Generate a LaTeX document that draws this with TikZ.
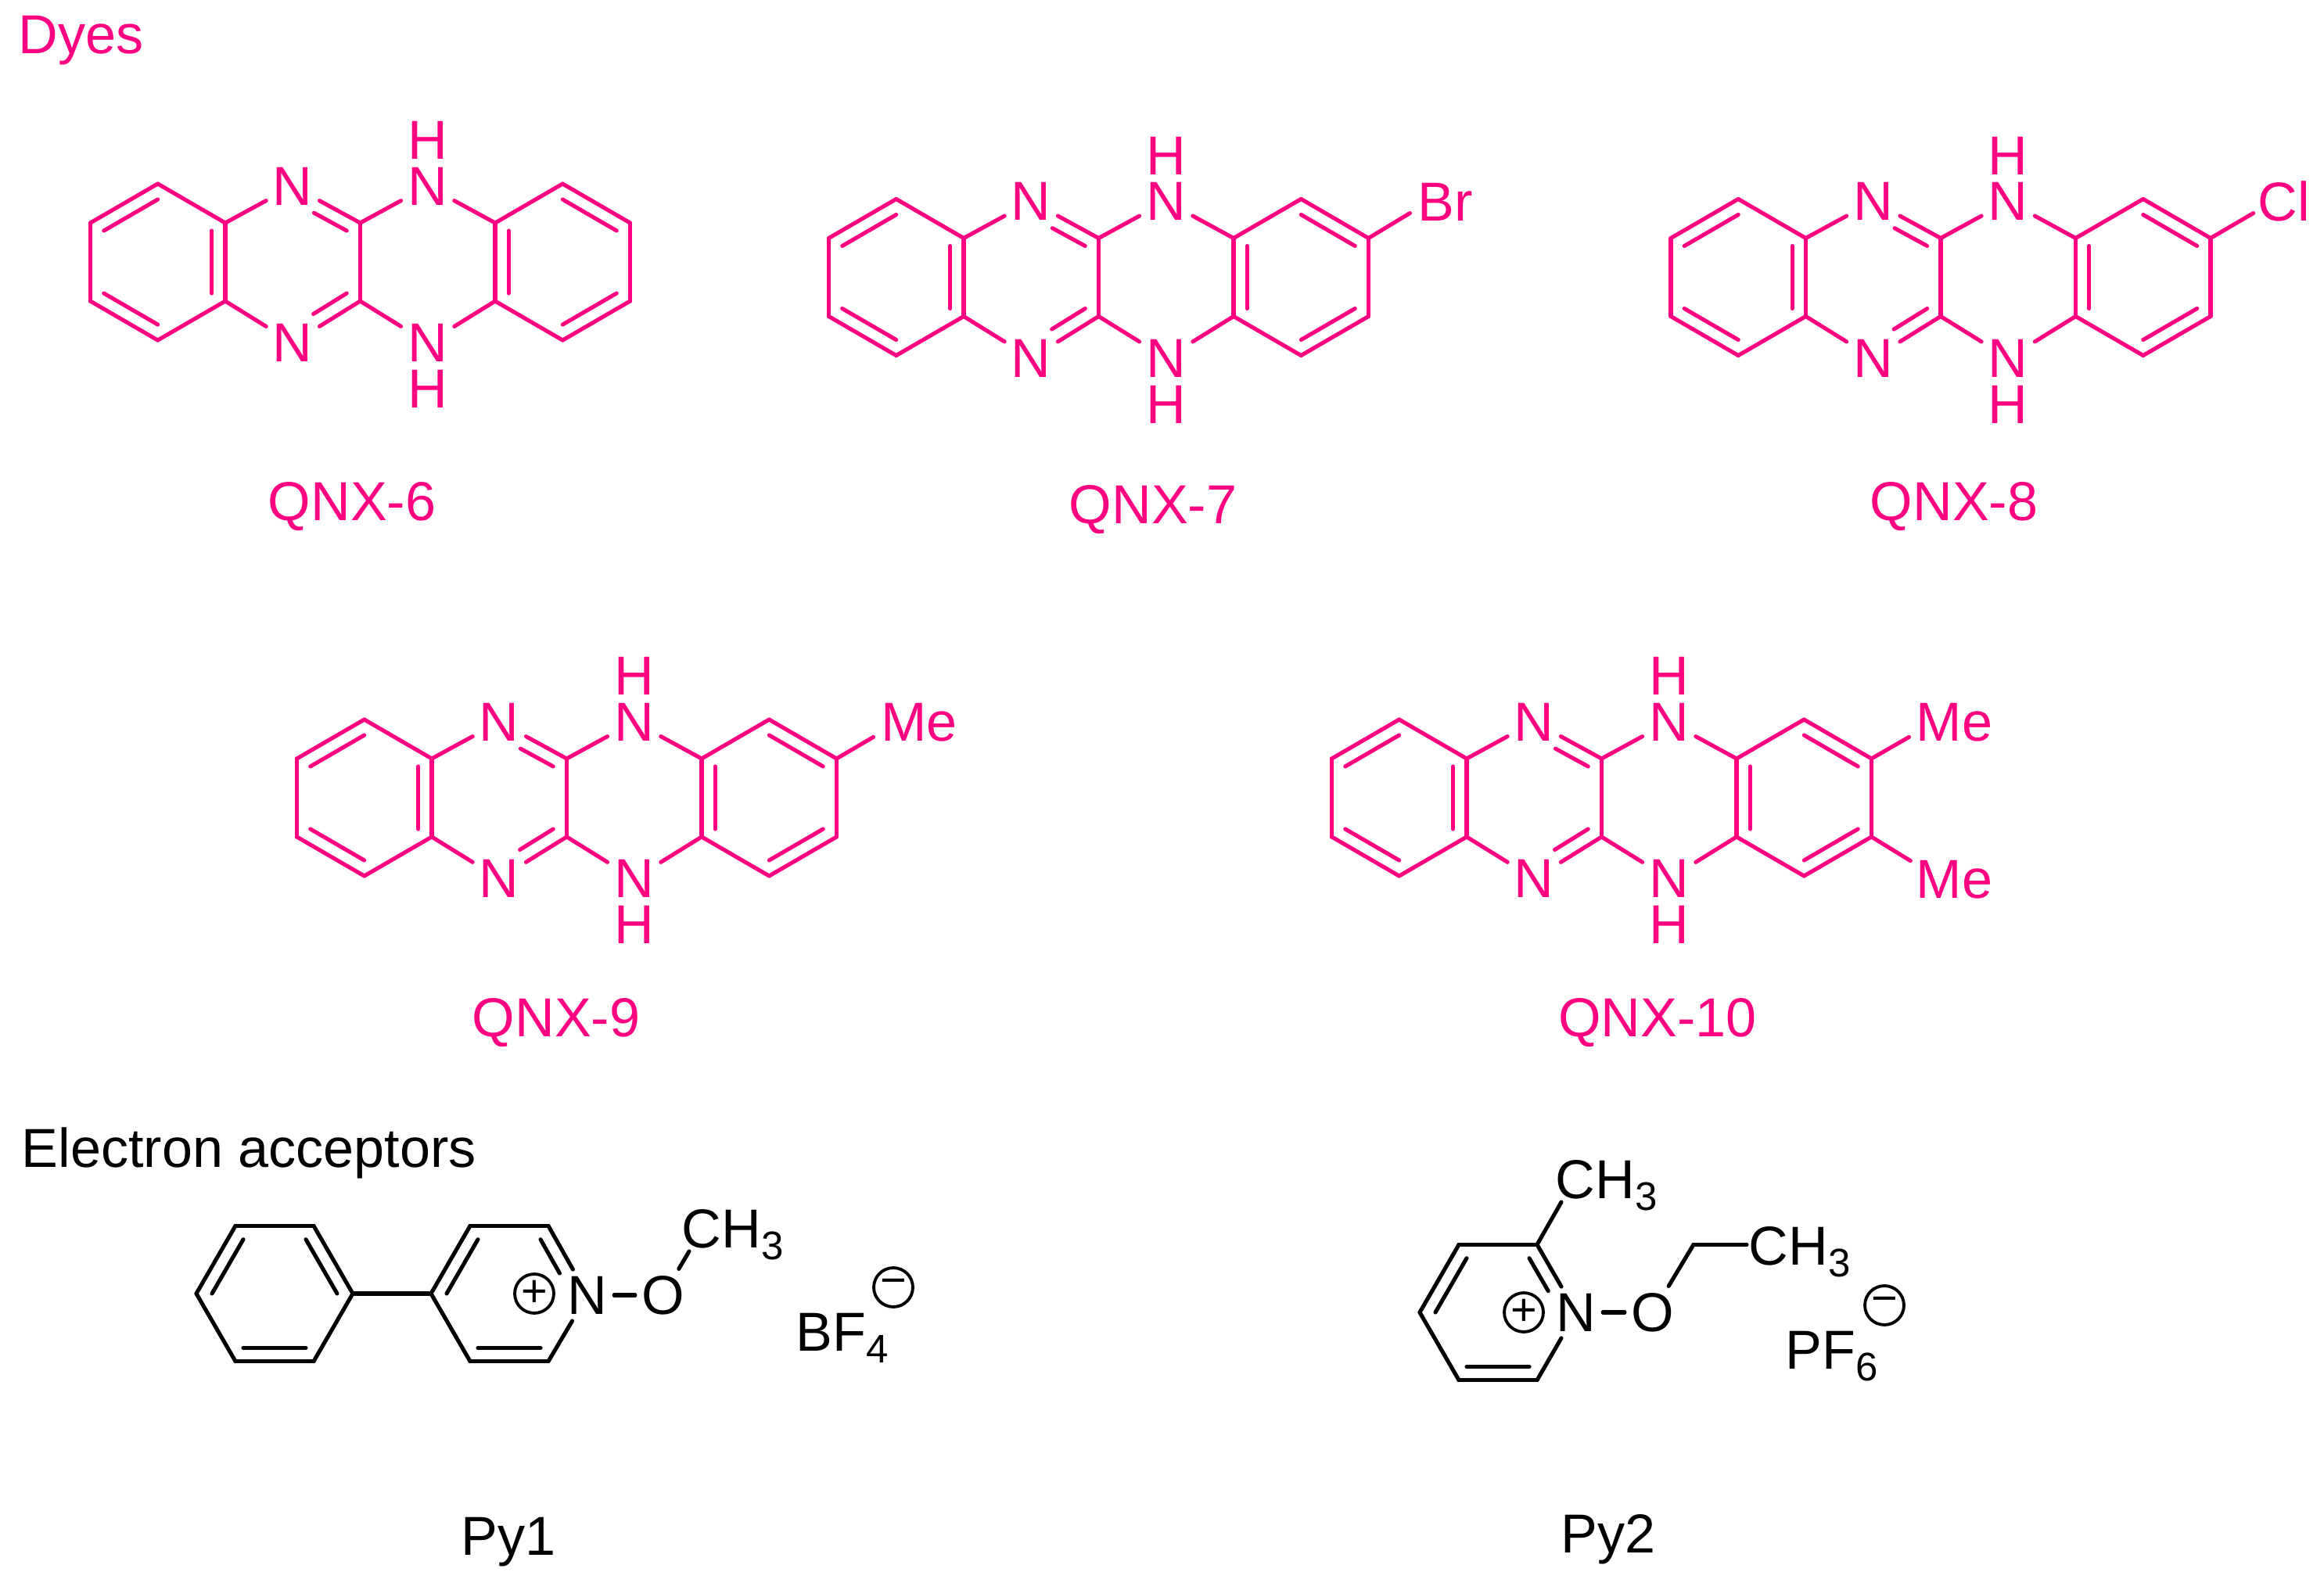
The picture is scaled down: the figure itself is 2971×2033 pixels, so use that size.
\documentclass[tikz,border=0pt]{standalone}
\usepackage{fontspec}
\setmainfont{Liberation Sans}
\usetikzlibrary{calc,positioning}
\definecolor{dyepink}{RGB}{255,0,128}
\tikzset{
	bond/.style={line width=1.45pt, line cap=round},
	atom/.style={inner sep=2.3pt, font=\fontsize{19.95}{24}\selectfont},
	hatom/.style={inner sep=0pt, font=\fontsize{19.95}{24}\selectfont},
	lbl/.style={inner sep=0pt, anchor=base west, font=\fontsize{19.95}{24}\selectfont},
	caption/.style={inner sep=0pt, anchor=base, font=\fontsize{19.95}{24}\selectfont},
	chg/.style={circle, draw, line width=1.1pt, minimum size=14.2pt, inner sep=0pt, font=\fontsize{16.4}{18}\selectfont}
}
\def\subs#1{\raisebox{-4.3pt}{\fontsize{14.5}{16}\selectfont #1}}
\def\innerbond[#1](#2)(#3)(#4){\draw[bond,#1] ($(#2)!0.2!(#4)$) -- ($(#3)!0.2!(#4)$);}
\def\qnxcore{
	\coordinate (l1) at (-345, -50);
	\coordinate (l2) at (-258.8, -100);
	\coordinate (l3) at (-172.5, -50);
	\coordinate (l4) at (-172.5, 50);
	\coordinate (l5) at (-258.8, 100);
	\coordinate (l6) at (-345, 50);
	\coordinate (lc) at (-258.8, 0);
	\coordinate (mc) at (-86.2, 0);
	\coordinate (ca) at (0, -50);
	\coordinate (cb) at (0, 50);
	\coordinate (r1) at (172.5, -50);
	\coordinate (r2) at (258.8, -100);
	\coordinate (r3) at (345, -50);
	\coordinate (r4) at (345, 50);
	\coordinate (r5) at (258.8, 100);
	\coordinate (r6) at (172.5, 50);
	\coordinate (rc) at (258.8, 0);
	\node[atom] (n1) at (-86.2, -97) {N};
	\node[atom] (n2) at (-86.2, 103.5) {N};
	\node[atom] (n3) at (86.2, -97) {N};
	\node[atom] (n4) at (86.2, 103.5) {N};
	\node[hatom] (h3) at (86.2, -155.5) {H};
	\node[hatom] (h4) at (86.2, 162.5) {H};
	\draw[bond] (l1) -- (l2);
	\draw[bond] (l2) -- (l3);
	\draw[bond] (l3) -- (l4);
	\draw[bond] (l4) -- (l5);
	\draw[bond] (l5) -- (l6);
	\draw[bond] (l6) -- (l1);
	\draw[bond] (l3) -- (n1);
	\draw[bond] (n1) -- (ca);
	\draw[bond] (ca) -- (n3);
	\draw[bond] (n3) -- (r1);
	\draw[bond] (l4) -- (n2);
	\draw[bond] (n2) -- (cb);
	\draw[bond] (cb) -- (n4);
	\draw[bond] (n4) -- (r6);
	\draw[bond] (ca) -- (cb);
	\draw[bond] (r1) -- (r2);
	\draw[bond] (r2) -- (r3);
	\draw[bond] (r3) -- (r4);
	\draw[bond] (r4) -- (r5);
	\draw[bond] (r5) -- (r6);
	\draw[bond] (r6) -- (r1);
	\innerbond[](l1)(l2)(lc);
	\innerbond[](l3)(l4)(lc);
	\innerbond[](l5)(l6)(lc);
	\innerbond[shorten >=8.8pt](ca)(n1)(mc);
	\innerbond[shorten >=8.8pt](cb)(n2)(mc);
	\innerbond[](r2)(r3)(rc);
	\innerbond[](r4)(r5)(rc);
	\innerbond[](r6)(r1)(rc);
}

\begin{document}
\begin{tikzpicture}[x=0.01cm, y=-0.01cm]
	\useasboundingbox (0, 0) rectangle (2971, 2033);
	
	%%%%% DYES %%%%%
	\begin{scope}[color=dyepink]
		\node[lbl] (dyes) at (23, 68) {Dyes};
		
		\begin{scope}[shift={(460.5, 335)}, name prefix=six-]
			\qnxcore
		\end{scope}
		\node[caption] (qnx6) at (450, 665) {QNX-6};
		
		\begin{scope}[shift={(1404.5, 354.5)}, name prefix=sev-]
			\qnxcore
			\node[lbl] (br) at (407, -72) {Br};
			\coordinate (brend) at (398, -82);
			\draw[bond] (r3) -- (brend);
		\end{scope}
		\node[caption] (qnx7) at (1474, 669) {QNX-7};
		
		\begin{scope}[shift={(2481, 354.5)}, name prefix=eig-]
			\qnxcore
			\node[lbl] (cl) at (404.7, -72) {Cl};
			\coordinate (clend) at (399.7, -82);
			\draw[bond] (r3) -- (clend);
		\end{scope}
		\node[caption] (qnx8) at (2498, 665) {QNX-8};
		
		\begin{scope}[shift={(724.5, 1020)}, name prefix=nin-]
			\qnxcore
			\node[lbl] (me) at (401, -72.3) {Me};
			\coordinate (meend) at (392, -77.6);
			\draw[bond] (r3) -- (meend);
		\end{scope}
		\node[caption] (qnx9) at (711, 1325) {QNX-9};
		
		\begin{scope}[shift={(2047.5, 1020)}, name prefix=ten-]
			\qnxcore
			\node[lbl] (mea) at (401.5, -72.3) {Me};
			\node[lbl] (meb) at (401.5, 128.6) {Me};
			\coordinate (meaend) at (393, -77.6);
			\coordinate (mebend) at (394.8, 80.6);
			\draw[bond] (r3) -- (meaend);
			\draw[bond] (r4) -- (mebend);
		\end{scope}
		\node[caption] (qnx10) at (2119, 1325) {QNX-10};
	\end{scope}
	
	%%%%% ACCEPTORS %%%%%
	\node[lbl] (acc) at (27, 1492) {Electron acceptors};
	
	% Py1
	\coordinate (pa1) at (251, 1654);
	\coordinate (pa2) at (301, 1567.4);
	\coordinate (pa3) at (401, 1567.4);
	\coordinate (pa4) at (451, 1654);
	\coordinate (pa5) at (401, 1740.6);
	\coordinate (pa6) at (301, 1740.6);
	\coordinate (pac) at (351, 1654);
	\coordinate (pb1) at (551, 1654);
	\coordinate (pb2) at (601, 1567.4);
	\coordinate (pb3) at (701, 1567.4);
	\coordinate (pb5) at (701, 1740.6);
	\coordinate (pb6) at (601, 1740.6);
	\coordinate (pbc) at (651, 1654);
	\node[atom] (pbn) at (751, 1656) {N};
	\node[atom] (pbo) at (848, 1656) {O};
	\node[lbl] (pbme) at (871, 1595) {CH\subs{3}};
	\coordinate (pbend) at (881, 1600);
	\node[chg] (pbplus) at (683, 1654) {+};
	\node[lbl] (bf) at (1017, 1727) {BF\subs{4}};
	\node[chg] (bfminus) at (1142, 1646) {−};
	
	\draw[bond] (pa1) -- (pa2);
	\draw[bond] (pa2) -- (pa3);
	\draw[bond] (pa3) -- (pa4);
	\draw[bond] (pa4) -- (pa5);
	\draw[bond] (pa5) -- (pa6);
	\draw[bond] (pa6) -- (pa1);
	\innerbond[](pa1)(pa2)(pac);
	\innerbond[](pa3)(pa4)(pac);
	\innerbond[](pa5)(pa6)(pac);
	\draw[bond] (pa4) -- (pb1);
	\draw[bond] (pb1) -- (pb2);
	\draw[bond] (pb2) -- (pb3);
	\draw[bond] (pb3) -- (pbn);
	\draw[bond] (pbn) -- (pb5);
	\draw[bond] (pb5) -- (pb6);
	\draw[bond] (pb6) -- (pb1);
	\innerbond[](pb1)(pb2)(pbc);
	\innerbond[shorten >=9pt](pb3)(pbn)(pbc);
	\innerbond[](pb5)(pb6)(pbc);
	\draw[bond] (pbn) -- (pbo);
	\draw[bond] (pbo) -- (pbend);
	
	\node[caption] (pya) at (650, 1988) {Py1};
	
	% Py2
	\coordinate (pc1) at (1815, 1678);
	\coordinate (pc2) at (1865, 1591.4);
	\coordinate (pc3) at (1965, 1591.4);
	\coordinate (pc5) at (1965, 1764.6);
	\coordinate (pc6) at (1865, 1764.6);
	\coordinate (pcc) at (1915, 1678);
	\node[atom] (pcn) at (2015, 1678) {N};
	\node[atom] (pco) at (2113, 1678) {O};
	\node[lbl] (pcme) at (1988, 1532) {CH\subs{3}};
	\coordinate (pcend) at (1996, 1537);
	\coordinate (pcet) at (2165, 1591.4);
	\node[lbl] (pcetme) at (2235, 1617) {CH\subs{3}};
	\coordinate (pcetend) at (2233, 1591.4);
	\node[chg] (pcplus) at (1948, 1678) {+};
	\node[lbl] (pf) at (2282, 1750) {PF\subs{6}};
	\node[chg] (pfminus) at (2409, 1669) {−};
	
	\draw[bond] (pc1) -- (pc2);
	\draw[bond] (pc2) -- (pc3);
	\draw[bond] (pc3) -- (pcn);
	\draw[bond] (pcn) -- (pc5);
	\draw[bond] (pc5) -- (pc6);
	\draw[bond] (pc6) -- (pc1);
	\innerbond[](pc1)(pc2)(pcc);
	\innerbond[shorten >=9pt](pc3)(pcn)(pcc);
	\innerbond[](pc5)(pc6)(pcc);
	\draw[bond] (pc3) -- (pcend);
	\draw[bond] (pcn) -- (pco);
	\draw[bond] (pco) -- (pcet);
	\draw[bond] (pcet) -- (pcetend);
	
	\node[caption] (pyb) at (2056, 1985) {Py2};
\end{tikzpicture}
\end{document}
